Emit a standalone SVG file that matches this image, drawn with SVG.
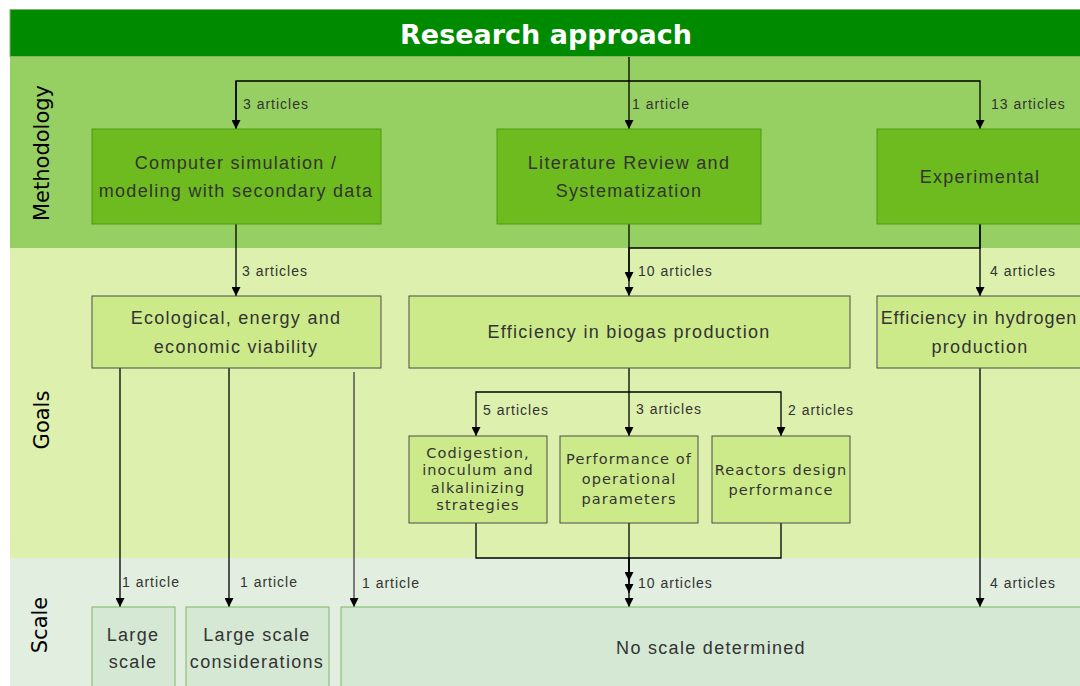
<svg xmlns="http://www.w3.org/2000/svg" width="1080" height="686" viewBox="0 0 1080 686">
<style>
.band-title{fill:#008a00;stroke:#82b366;stroke-width:1}
.band-m{fill:#97d062;stroke:none}
.band-g{fill:#ddf0ae;stroke:none}
.band-s{fill:#e2eedf;stroke:none}
.nm{fill:#6dbb1e;stroke:#4d9a12;stroke-width:1}
.ng{fill:#cdea8a;stroke:#4d4d4d;stroke-width:1}
.ns{fill:#d5e8d4;stroke:#82b366;stroke-width:1}
.t{font-family:"Liberation Sans",Arial,sans-serif;font-size:18px;fill:#333;text-anchor:middle;letter-spacing:1.3px}
.ts{font-family:"DejaVu Sans",Verdana,sans-serif;font-size:14.5px;fill:#333;text-anchor:middle;letter-spacing:1.1px}
.lab{font-family:"Liberation Sans",Arial,sans-serif;font-size:14px;fill:#333;letter-spacing:1px}
.side{font-family:"DejaVu Sans",Verdana,sans-serif;font-size:21px;fill:#000;text-anchor:middle}
.title{font-family:"DejaVu Sans",Verdana,sans-serif;font-size:27px;font-weight:bold;fill:#fff;text-anchor:middle}
.c{fill:none;stroke:#000;stroke-width:1.3}
</style>
<defs>
<marker id="arr" viewBox="0 0 10 10" refX="10" refY="5" markerWidth="9" markerHeight="9" markerUnits="userSpaceOnUse" orient="auto">
<path d="M0,0 L10,5 L0,10 Z" fill="#000"/>
</marker>
</defs>
<rect x="0" y="0" width="1080" height="686" fill="#fff"/>
<g id="bands">
<rect class="band-m" x="10" y="57" width="1070" height="191"/>
<rect class="band-g" x="10" y="248" width="1070" height="310"/>
<rect class="band-s" x="10" y="558" width="1070" height="128"/>
<rect class="band-title" x="10" y="9.5" width="1075" height="47"/>
<text class="title" x="546" y="44">Research approach</text>
<text class="side" transform="translate(49,153) rotate(-90)">Methodology</text>
<text class="side" transform="translate(49,420) rotate(-90)">Goals</text>
<text class="side" transform="translate(47,625) rotate(-90)">Scale</text>
</g>
<g id="connectors">
<path class="c" d="M629,57 V129" marker-end="url(#arr)"/>
<path class="c" d="M236,129 V81 H980 V129" marker-end="url(#arr)"/>
<path class="c" d="M236,81 V129" marker-end="url(#arr)"/>
<path class="c" d="M236,224 V296" marker-end="url(#arr)"/>
<path class="c" d="M629,224 V296" marker-end="url(#arr)"/>
<path class="c" d="M980,224 V248 H629 V281" marker-end="url(#arr)"/>
<path class="c" d="M980,224 V296" marker-end="url(#arr)"/>
<path class="c" d="M120,368 V607" marker-end="url(#arr)"/>
<path class="c" d="M229,368 V607" marker-end="url(#arr)"/>
<path d="M354,372 V607" fill="none" stroke="#555" stroke-width="1.5" marker-end="url(#arr)"/>
<path class="c" d="M629,368 V436" marker-end="url(#arr)"/>
<path class="c" d="M629,392 H476 V436" marker-end="url(#arr)"/>
<path class="c" d="M629,392 H781 V436" marker-end="url(#arr)"/>
<path class="c" d="M476,523 V558 H629 V581" marker-end="url(#arr)"/>
<path class="c" d="M781,523 V558 H629 V593" marker-end="url(#arr)"/>
<path class="c" d="M629,523 V607" marker-end="url(#arr)"/>
<path class="c" d="M980,368 V607" marker-end="url(#arr)"/>
<text class="lab" x="243" y="109">3 articles</text>
<text class="lab" x="632" y="109">1 article</text>
<text class="lab" x="991" y="109">13 articles</text>
<text class="lab" x="242" y="276">3 articles</text>
<text class="lab" x="638" y="276">10 articles</text>
<text class="lab" x="990" y="276">4 articles</text>
<text class="lab" x="483" y="415">5 articles</text>
<text class="lab" x="636" y="414">3 articles</text>
<text class="lab" x="788" y="415">2 articles</text>
<text class="lab" x="122" y="587">1 article</text>
<text class="lab" x="240" y="587">1 article</text>
<text class="lab" x="362" y="588">1 article</text>
<text class="lab" x="638" y="588">10 articles</text>
<text class="lab" x="990" y="588">4 articles</text>
</g>
<g id="n-comp"><rect class="nm" x="92" y="129" width="289" height="95"/>
<text class="t" x="236" y="169">Computer simulation /</text><text class="t" x="236" y="197">modeling with secondary data</text></g>
<g id="n-lit"><rect class="nm" x="497" y="129" width="264" height="95"/>
<text class="t" x="629" y="169">Literature Review and</text><text class="t" x="629" y="197">Systematization</text></g>
<g id="n-exp"><rect class="nm" x="877" y="129" width="210" height="95"/>
<text class="t" x="980" y="183">Experimental</text></g>
<g id="n-eco"><rect class="ng" x="92" y="296" width="289" height="72"/>
<text class="t" x="236" y="324">Ecological, energy and</text><text class="t" x="236" y="353">economic viability</text></g>
<g id="n-bio"><rect class="ng" x="409" y="296" width="441" height="72"/>
<text class="t" x="629" y="338">Efficiency in biogas production</text></g>
<g id="n-hyd"><rect class="ng" x="877" y="296" width="210" height="72"/>
<text class="t" x="979" y="324" style="letter-spacing:0.95px">Efficiency in hydrogen</text><text class="t" x="980" y="353">production</text></g>
<g id="n-cod"><rect class="ng" x="409" y="436" width="138" height="87"/>
<text class="ts" x="478" y="458">Codigestion,</text><text class="ts" x="478" y="475">inoculum and</text><text class="ts" x="478" y="493">alkalinizing</text><text class="ts" x="478" y="510">strategies</text></g>
<g id="n-perf"><rect class="ng" x="560" y="436" width="138" height="87"/>
<text class="ts" x="629" y="464">Performance of</text><text class="ts" x="629" y="484">operational</text><text class="ts" x="629" y="504">parameters</text></g>
<g id="n-reac"><rect class="ng" x="712" y="436" width="138" height="87"/>
<text class="ts" x="781" y="475">Reactors design</text><text class="ts" x="781" y="495">performance</text></g>
<g id="n-large"><rect class="ns" x="92" y="607" width="83" height="85"/>
<text class="t" x="133" y="641">Large</text><text class="t" x="133" y="668">scale</text></g>
<g id="n-lsc"><rect class="ns" x="186" y="607" width="143" height="85"/>
<text class="t" x="257" y="641">Large scale</text><text class="t" x="257" y="668">considerations</text></g>
<g id="n-none"><rect class="ns" x="341" y="607" width="750" height="85"/>
<text class="t" x="711" y="654">No scale determined</text></g>
</svg>
